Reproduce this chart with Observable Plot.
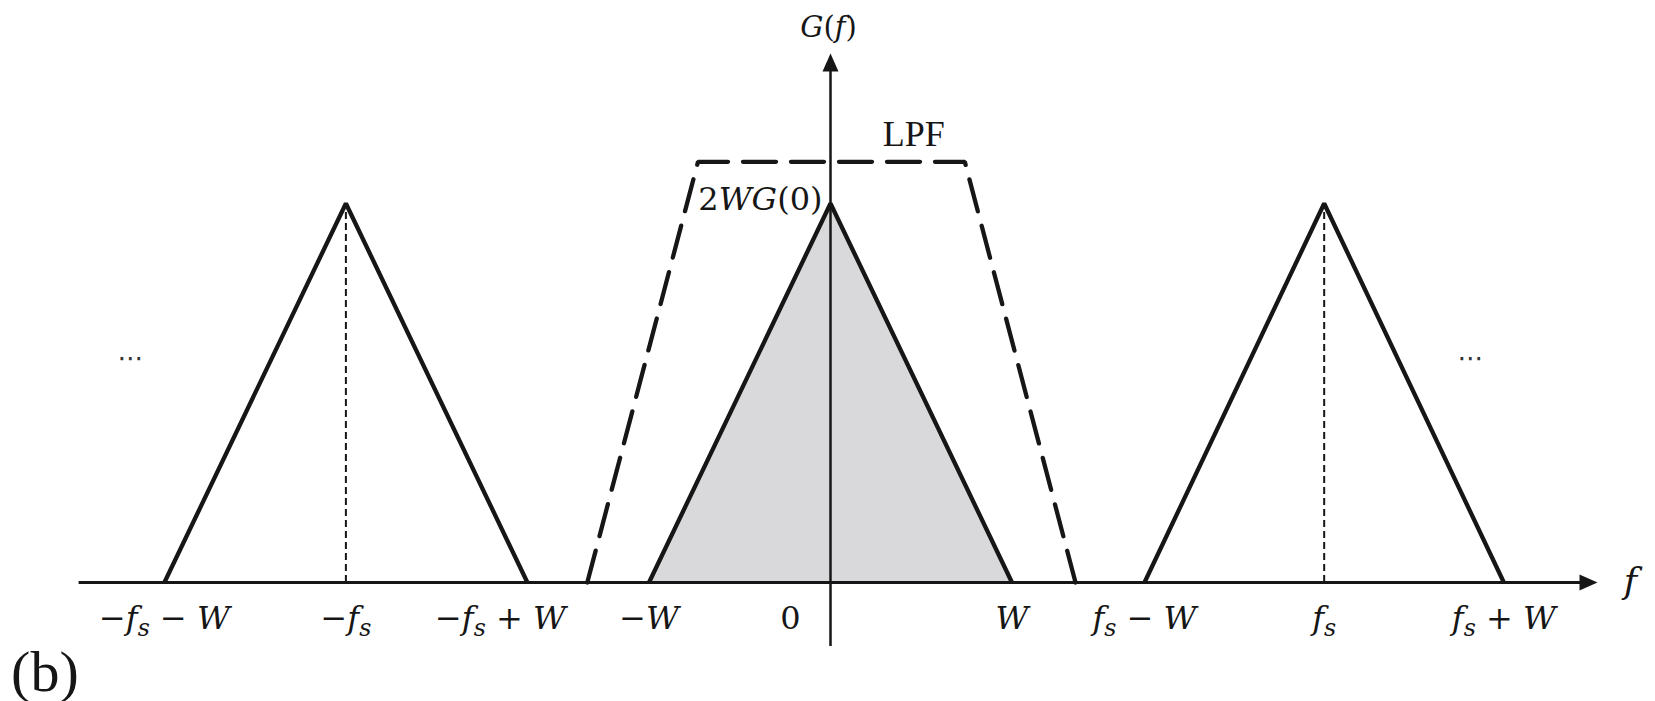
<!DOCTYPE html>
<html>
<head>
<meta charset="utf-8">
<script src="https://cdn.jsdelivr.net/npm/d3@7"></script>
<script src="https://cdn.jsdelivr.net/npm/@observablehq/plot@0.6"></script>
<style>
  html, body { margin: 0; padding: 0; background: #fff; }
  #chart svg { display: block; }
</style>
</head>
<body>
<div id="chart"></div>
<script>
// ---------- data (W = 1 unit) ----------
const copyNames = ["−f_s", "0", "f_s"];                 // spectral copies
const copyX = [[-3.67, -2.67, -1.67], [-1, 0, 1], [1.73, 2.72, 3.71]]; // left base, apex, right base
const copyY = [0, 1, 0];                                 // base, peak, base
const lpfX = [-1.34, -0.73, 0.74, 1.35];                 // low-pass filter corners
const lpfY = [0, 1.11, 1.11, 0];
const tickValues = [-3.67, -2.67, -1.67, -1, 0, 1, 1.73, 2.72, 3.71];
const tickLabels = ["−f_s − W", "−f_s", "−f_s + W", "−W", "0", "W", "f_s − W", "f_s", "f_s + W"];
const xAxisExtent = [-4.14, 4.204];
const yAxisExtent = [-0.169, 1.385];
const peakLabel = "2WG(0)";
const yAxisLabel = "G(f)";
const xAxisLabel = "f";
const filterLabel = "LPF";
const panelLabel = "(b)";
const ellipsis = "⋯";

// ---------- tables ----------
const copies = copyX.flatMap((xs, i) => xs.map((x, j) => ({copy: copyNames[i], x, y: copyY[j]})));
const centre = copies.filter(d => d.copy === "0");
const sideApexes = copies.filter(d => d.y === 1 && d.copy !== "0");
const lpf = lpfX.map((x, i) => ({x, y: lpfY[i]}));
const ticks = tickValues.map((x, i) => ({x, label: tickLabels[i]}));
const lpfTopRight = lpf[2];
const centreApex = centre[1];

const ink = "#161616";
const serif = "'Liberation Serif', 'Times New Roman', serif";
const mathFont = "'DejaVu Serif', serif";

// filled arrow head, tip at the origin pointing right
const arrowHead = {
  draw(ctx) {
    ctx.moveTo(4, 0);
    ctx.lineTo(-14, -8);
    ctx.lineTo(-14, 8);
    ctx.closePath();
  }
};

const tickLabelOpts = {x: "x", y: () => 0, text: "label", fontFamily: mathFont, fontSize: 32,
  fill: ink, textAnchor: "middle", lineAnchor: "bottom", dy: 46};

const plot = Plot.plot({
  width: 1655,
  height: 701,
  margin: 0,
  style: {background: "#fff", overflow: "visible"},
  x: {domain: [-830 / 181.5, 825 / 181.5], axis: null},
  y: {domain: [-119 / 379, 582 / 379], axis: null},
  marks: [
    // shaded baseband spectrum
    Plot.areaY(centre, {x: "x", y: "y", fill: "#d9d9db"}),
    // frequency axis
    Plot.ruleY([0], {x1: xAxisExtent[0], x2: xAxisExtent[1], stroke: ink, strokeWidth: 3}),
    Plot.dot([{x: xAxisExtent[1], y: 0}], {x: "x", y: "y", symbol: arrowHead, r: 8, fill: ink, stroke: null}),
    // dashed centre lines of the shifted copies
    Plot.ruleX(sideApexes, {x: "x", y1: 0, y2: "y", stroke: ink, strokeWidth: 2, strokeDasharray: "7,4"}),
    // triangles
    Plot.line(copies, {x: "x", y: "y", z: "copy", stroke: ink, strokeWidth: 4.3, strokeLinejoin: "miter", strokeLinecap: "butt"}),
    // low-pass filter
    Plot.line(lpf, {x: "x", y: "y", stroke: ink, strokeWidth: 4.3, strokeDasharray: "33,15", strokeLinejoin: "miter"}),
    // vertical axis
    Plot.ruleX([0], {y1: yAxisExtent[0], y2: yAxisExtent[1], stroke: ink, strokeWidth: 2.5}),
    Plot.dot([{x: 0, y: yAxisExtent[1]}], {x: "x", y: "y", symbol: arrowHead, r: 8, fill: ink, stroke: null, rotate: -90}),
    // tick labels
    Plot.text(ticks.filter(d => d.label !== "0" && d.label !== "−f_s + W"), tickLabelOpts),
    Plot.text(ticks.filter(d => d.label === "−f_s + W"), {...tickLabelOpts, dx: -27}),
    Plot.text(ticks.filter(d => d.label === "0"), {...tickLabelOpts, dx: -40}),
    // annotations
    Plot.text([peakLabel], {x: () => centreApex.x, y: () => centreApex.y, text: d => d, fontFamily: mathFont, fontSize: 32,
      fill: ink, textAnchor: "end", lineAnchor: "bottom", dx: -8, dy: 6}),
    Plot.text([filterLabel], {x: () => lpfTopRight.x, y: () => lpfTopRight.y, text: d => d, fontFamily: serif, fontSize: 36,
      fill: ink, textAnchor: "middle", lineAnchor: "bottom", dx: -51, dy: -16}),
    Plot.text([yAxisLabel], {x: () => 0, y: () => yAxisExtent[1], text: d => d, fontFamily: mathFont, fontSize: 29,
      fill: ink, textAnchor: "middle", lineAnchor: "bottom", dx: -2, dy: -21}),
    Plot.text([xAxisLabel], {x: () => xAxisExtent[1], y: () => 0, text: d => d, fontFamily: mathFont, fontSize: 36,
      fill: ink, textAnchor: "middle", lineAnchor: "bottom", dx: 37, dy: 10}),
    Plot.text([panelLabel], {x: () => xAxisExtent[0], y: () => 0, text: d => d, fontFamily: serif, fontSize: 58,
      fill: ink, textAnchor: "start", lineAnchor: "bottom", dx: -68, dy: 108}),
    Plot.text([ellipsis], {frameAnchor: "left", text: d => d, fontFamily: "DejaVu Sans", fontSize: 26,
      fill: "#333", textAnchor: "middle", dx: 130, dy: 8}),
    Plot.text([ellipsis], {frameAnchor: "right", text: d => d, fontFamily: "DejaVu Sans", fontSize: 26,
      fill: "#333", textAnchor: "middle", dx: -185, dy: 8})
  ]
});

// ---------- math typesetting: italic letters, subscripts ----------
const mathStrings = new Set([...tickLabels, peakLabel, yAxisLabel, xAxisLabel]);
function mathify(el, str) {
  const parts = [];
  for (let i = 0; i < str.length; i++) {
    const c = str[i];
    if (c === "_") { parts.push({t: str[++i], it: true, sub: true}); continue; }
    const it = /[A-Za-z]/.test(c);
    const last = parts[parts.length - 1];
    if (last && !last.sub && last.it === it) last.t += c;
    else parts.push({t: c, it, sub: false});
  }
  el.textContent = "";
  let shifted = false;
  for (const p of parts) {
    const ts = document.createElementNS("http://www.w3.org/2000/svg", "tspan");
    ts.textContent = p.t;
    if (p.it) ts.setAttribute("font-style", "italic");
    if (p.sub) {
      ts.setAttribute("font-size", "74%");
      ts.setAttribute("dy", "0.3em");
      shifted = true;
    } else if (shifted) {
      ts.setAttribute("dy", "-0.222em");
      shifted = false;
    }
    el.appendChild(ts);
  }
}
plot.querySelectorAll("text").forEach(el => {
  const s = el.textContent;
  if (mathStrings.has(s)) mathify(el, s);
});

document.getElementById("chart").appendChild(plot);
</script>
</body>
</html>
